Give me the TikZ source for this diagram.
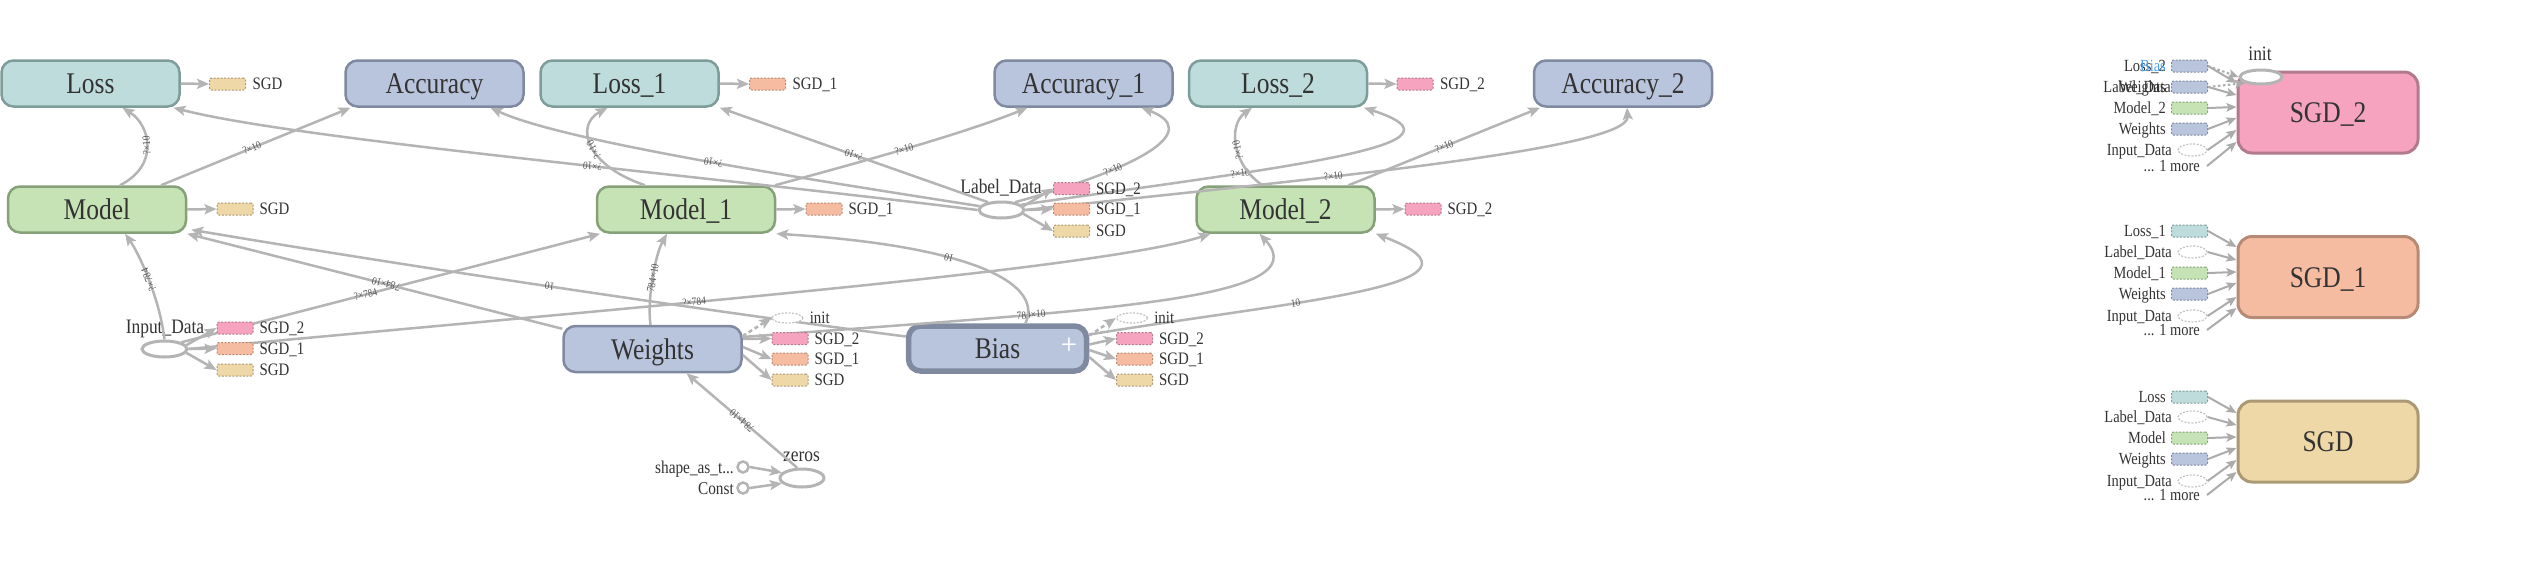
\documentclass[tikz,border=0pt]{standalone}
\usepackage{fontspec}
\setmainfont{Liberation Serif}[FakeStretch=0.85]
\usetikzlibrary{arrows.meta,shapes.geometric}
\definecolor{txt}{HTML}{333333}
\definecolor{edgec}{HTML}{B4B4B4}
\definecolor{labc}{HTML}{555555}
\definecolor{tealF}{HTML}{BDDCDB}\definecolor{tealD}{HTML}{7E9C9A}
\definecolor{blueF}{HTML}{B9C4DD}\definecolor{blueD}{HTML}{7F8AA1}
\definecolor{greenF}{HTML}{C6E3B5}\definecolor{greenD}{HTML}{86A17A}
\definecolor{pinkF}{HTML}{F5A3BF}\definecolor{pinkD}{HTML}{B27A8D}
\definecolor{salF}{HTML}{F6BCA1}\definecolor{salD}{HTML}{B78A75}
\definecolor{tanF}{HTML}{EFD8A8}\definecolor{tanD}{HTML}{AA9974}
\definecolor{biasblue}{HTML}{4DA3F0}
\tikzset{
  grp/.style={rectangle, rounded corners=12pt, line width=2.5pt, minimum width=178pt, minimum height=46pt, inner sep=0pt, font=\fontsize{30}{30}\selectfont, text=txt, text height=20pt, text depth=0pt},
  tealbox/.style={grp, fill=tealF, draw=tealD},
  bluebox/.style={grp, fill=blueF, draw=blueD},
  greenbox/.style={grp, fill=greenF, draw=greenD},
  bigbox/.style={rectangle, rounded corners=14pt, line width=3pt, minimum width=180pt, minimum height=81pt, inner sep=0pt, font=\fontsize{30}{30}\selectfont, text=txt, text height=20pt, text depth=0pt},
  mini/.style={rectangle, rounded corners=2pt, minimum width=36pt, minimum height=12pt, inner sep=0pt, line width=1pt, dash pattern=on 2pt off 1.5pt},
  mteal/.style={mini, fill=tealF, draw=tealD},
  mblue/.style={mini, fill=blueF, draw=blueD},
  mgreen/.style={mini, fill=greenF, draw=greenD},
  mpink/.style={mini, fill=pinkF, draw=pinkD},
  msal/.style={mini, fill=salF, draw=salD},
  mtan/.style={mini, fill=tanF, draw=tanD},
  mell/.style={ellipse, draw=edgec!80, fill=white, line width=1.2pt, dash pattern=on 2pt off 1.5pt, minimum width=29pt, minimum height=12pt, inner sep=0pt},
  ml/.style={anchor=west, inner sep=0pt, font=\fontsize{17.5}{17.5}\selectfont, text=txt, text height=11.6pt, text depth=0pt},
  rl/.style={anchor=east, inner sep=0pt, font=\fontsize{17}{17}\selectfont, text=txt, text height=11.3pt, text depth=0pt},
  bl/.style={inner sep=0pt, font=\fontsize{20.5}{20.5}\selectfont, text=txt, text height=13.6pt, text depth=0pt},
  opn/.style={ellipse, draw=edgec, line width=3pt, fill=white, minimum width=45pt, minimum height=16pt, inner sep=0pt},
  smallc/.style={circle, draw=edgec, line width=2.5pt, fill=white, minimum size=11pt, inner sep=0pt},
  edg/.style={draw=edgec, line width=2.5pt, -{Stealth[length=12pt,width=10pt,inset=2.5pt]}},
  dedg/.style={edg, dash pattern=on 4pt off 3pt},
  redg/.style={draw=edgec!95!black, line width=2pt, -{Stealth[length=10pt,width=8.5pt,inset=2pt]}},
  rdot/.style={redg, dash pattern=on 2.5pt off 2.5pt},
  elab/.style={font=\fontsize{11}{11}\selectfont, text=labc, sloped, allow upside down, inner sep=1pt}
}
\begin{document}
\begin{tikzpicture}[x=1pt,y=-1pt]
\useasboundingbox[fill=white] (0,0) rectangle (2538,582);
% ---------- main nodes
\node[tealbox] (loss) at (90.5,83.5) {Loss};
\node[bluebox] (acc) at (434.5,83.5) {Accuracy};
\node[tealbox] (loss1) at (629.5,83.5) {Loss\_1};
\node[bluebox] (acc1) at (1083.5,83.5) {Accuracy\_1};
\node[tealbox] (loss2) at (1278,83.5) {Loss\_2};
\node[bluebox] (acc2) at (1623,83.5) {Accuracy\_2};
\node[greenbox] (model) at (97,209.5) {Model};
\node[greenbox] (model1) at (686,209.5) {Model\_1};
\node[greenbox] (model2) at (1285.5,209.5) {Model\_2};
\node[bluebox] (weights) at (652.5,349) {Weights};
\node[bluebox, line width=5.5pt, minimum height=45pt] (bias) at (997.5,348.5) {Bias};
\node[inner sep=0pt, text=white, font=\sffamily\bfseries\fontsize{19}{19}\selectfont] (biasplus) at (1069,345) {+};
\node[opn] (ld) at (1001.5,210) {};
\node[bl] (ldL) at (1001,187) {Label\_Data};
\node[opn] (id) at (164.5,349) {};
\node[bl] (idL) at (165,327) {Input\_Data};
\node[opn, minimum width=44pt, minimum height=18pt] (zeros) at (802,478) {};
\node[bl] (zerosL) at (801.5,455) {zeros};
\node[smallc] (shp) at (743,467) {};
\node[smallc] (cst) at (743,488) {};
\node[bl, anchor=east, font=\fontsize{18}{18}\selectfont, text height=12pt] (shpL) at (734,467) {shape\_as\_t...};
\node[bl, anchor=east, font=\fontsize{18}{18}\selectfont, text height=12pt] (cstL) at (734,488) {Const};
% ---------- long edges
\draw[edg] ([xshift=23pt]model.north) .. controls (160,165) and (150,125) .. node[elab,pos=.5]{?×10} ([xshift=32pt]loss.south);
\draw[edg] ([xshift=64pt]model.north) -- node[elab,pos=.48]{?×10} ([xshift=-84pt]acc.south);
\draw[edg] (ld.west) .. controls (700,175) and (300,140) .. node[elab,pos=.42]{?×10} ([xshift=83pt]loss.south);
\draw[edg] (ld.170) .. controls (780,175) and (560,140) .. node[elab,pos=.45]{?×10} ([xshift=56pt]acc.south);
\draw[edg] (ld.150) -- node[elab,pos=.5]{?×10} (loss1.south east);
\draw[edg] (ld.30) .. controls (1150,165) and (1200,130) .. node[elab,pos=.3]{?×10} ([xshift=58pt]acc1.south);
\draw[edg] (ld.15) .. controls (1300,165) and (1480,145) .. node[elab,pos=.3]{?×10} ([xshift=86pt]loss2.south);
\draw[edg] (ld.east) .. controls (1300,180) and (1630,150) .. node[elab,pos=.37]{?×10} ([xshift=4pt]acc2.south);
\draw[edg] ([xshift=-41pt]model1.north) .. controls (585,165) and (575,125) .. node[elab,pos=.45]{?×10} ([xshift=-22pt]loss1.south);
\draw[edg] ([xshift=89pt]model1.north) .. controls (850,165) and (960,135) .. node[elab,pos=.5]{?×10} ([xshift=-56pt]acc1.south);
\draw[edg] ([xshift=-23pt]model2.north) .. controls (1232,165) and (1228,125) .. node[elab,pos=.45]{?×10} ([xshift=-26pt]loss2.south);
\draw[edg] ([xshift=63pt]model2.north) -- node[elab,pos=.5]{?×10} ([xshift=-83pt]acc2.south);
\draw[edg] (id.north) .. controls (160,300) and (140,255) .. node[elab,pos=.5]{?×784} ([xshift=28pt]model.south);
\draw[edg] (id.north east) -- node[elab,pos=.44]{?×784} ([xshift=-86pt]model1.south);
\draw[edg] (id.east) .. controls (600,310) and (1100,270) .. node[elab,pos=.4]{?×784} ([xshift=-75pt]model2.south);
\draw[edg] ([yshift=-4pt]weights.north west) -- node[elab,pos=.47]{784×10} (model.south east);
\draw[edg] ([xshift=-2pt]weights.north) .. controls (647,300) and (655,255) .. node[elab,pos=.5]{784×10} ([xshift=-19pt]model1.south);
\draw[edg] ([yshift=12pt]weights.east) .. controls (1100,310) and (1320,300) .. node[elab,pos=.31]{784×10} ([xshift=-26pt]model2.south);
\draw[edg] ([yshift=12pt]bias.west) .. controls (700,310) and (400,265) .. node[elab,pos=.5]{10} ([xshift=4pt,yshift=4pt]model.south east);
\draw[edg] ([xshift=28pt]bias.north) .. controls (1045,280) and (960,245) .. node[elab,pos=.6]{10} (model1.south east);
\draw[edg] ([yshift=14pt]bias.east) .. controls (1300,300) and (1510,285) .. node[elab,pos=.35]{10} (model2.south east);
\draw[edg] (zeros.115) -- node[elab,pos=.5]{784×10} ([xshift=34pt]weights.south);
\draw[edg] (shp.east) -- (zeros.165);
\draw[edg] (cst.east) -- (zeros.195);
% ---------- minis of main nodes
\node[mtan] (lossS) at (227.5,84) {};
\node[ml] (lossSL) at ([xshift=6.5pt]lossS.east) {SGD};
\draw[edg] (loss.east) -- (lossS.west);
\node[msal] (loss1S) at (767.5,84) {};
\node[ml] (loss1SL) at ([xshift=6.5pt]loss1S.east) {SGD\_1};
\draw[edg] (loss1.east) -- (loss1S.west);
\node[mpink] (loss2S) at (1415,84) {};
\node[ml] (loss2SL) at ([xshift=6.5pt]loss2S.east) {SGD\_2};
\draw[edg] (loss2.east) -- (loss2S.west);
\node[mtan] (modelS) at (235,209) {};
\node[ml] (modelSL) at ([xshift=6pt]modelS.east) {SGD};
\draw[edg] (model.east) -- (modelS.west);
\node[msal] (model1S) at (824,209) {};
\node[ml] (model1SL) at ([xshift=6pt]model1S.east) {SGD\_1};
\draw[edg] (model1.east) -- (model1S.west);
\node[mpink] (model2S) at (1423,209) {};
\node[ml] (model2SL) at ([xshift=6pt]model2S.east) {SGD\_2};
\draw[edg] (model2.east) -- (model2S.west);
% Label_Data minis
\node[mpink] (ld2) at (1071.5,188.5) {};
\node[msal] (ld1) at (1071.5,209) {};
\node[mtan] (ld0) at (1071.5,231) {};
\node[ml] (ld2L) at ([xshift=6pt]ld2.east) {SGD\_2};
\node[ml] (ld1L) at ([xshift=6pt]ld1.east) {SGD\_1};
\node[ml] (ld0L) at ([xshift=6pt]ld0.east) {SGD};
\draw[edg] (ld.10) -- (ld2.west);
\draw[edg] (ld.east) -- (ld1.west);
\draw[edg] (ld.-10) -- (ld0.west);
% Input_Data minis
\node[mpink] (id2) at (235,328) {};
\node[msal] (id1) at (235,348.5) {};
\node[mtan] (id0) at (235,370) {};
\node[ml] (id2L) at ([xshift=6pt]id2.east) {SGD\_2};
\node[ml] (id1L) at ([xshift=6pt]id1.east) {SGD\_1};
\node[ml] (id0L) at ([xshift=6pt]id0.east) {SGD};
\draw[edg] (id.10) -- (id2.west);
\draw[edg] (id.east) -- (id1.west);
\draw[edg] (id.-10) -- (id0.west);
% Weights minis
\node[mell, minimum width=31pt, minimum height=10pt] (winit) at (787.5,318) {};
\node[mpink] (w2) at (790,338.5) {};
\node[msal] (w1) at (790,359) {};
\node[mtan] (w0) at (790,380) {};
\node[ml] (winitL) at ([xshift=6pt]winit.east) {init};
\node[ml] (w2L) at ([xshift=6pt]w2.east) {SGD\_2};
\node[ml] (w1L) at ([xshift=6pt]w1.east) {SGD\_1};
\node[ml] (w0L) at ([xshift=6pt]w0.east) {SGD};
\draw[dedg] ([yshift=13pt]weights.east) -- (winit.west);
\draw[edg] ([yshift=10pt]weights.east) -- (w2.west);
\draw[edg] ([yshift=2pt]weights.east) -- (w1.west);
\draw[edg] ([yshift=-6pt]weights.east) -- (w0.west);
% Bias minis
\node[mell, minimum width=31pt, minimum height=10pt] (binit) at (1132,318) {};
\node[mpink] (b2) at (1134.5,338.5) {};
\node[msal] (b1) at (1134.5,359) {};
\node[mtan] (b0) at (1134.5,380) {};
\node[ml] (binitL) at ([xshift=6pt]binit.east) {init};
\node[ml] (b2L) at ([xshift=6pt]b2.east) {SGD\_2};
\node[ml] (b1L) at ([xshift=6pt]b1.east) {SGD\_1};
\node[ml] (b0L) at ([xshift=6pt]b0.east) {SGD};
\draw[dedg] ([yshift=13pt]bias.east) -- (binit.west);
\draw[edg] ([yshift=4pt]bias.east) -- (b2.west);
\draw[edg] ([yshift=-1.5pt]bias.east) -- (b1.west);
\draw[edg] ([yshift=-8.5pt]bias.east) -- (b0.west);
% ---------- right side: SGD_2
\node[bigbox, fill=pinkF, draw=pinkD] (sgd2) at (2328,112.5) {SGD\_2};
\node[opn, minimum width=42pt, minimum height=14pt] (sgd2init) at (2261,77) {};
\node[bl] (sgd2initL) at (2260,54) {init};
\node[mblue] (a1) at (2189.5,66) {};
\node[mblue] (a2) at (2189.5,87) {};
\node[mgreen] (a3) at (2189.5,108) {};
\node[mblue] (a4) at (2189.5,129) {};
\node[mell] (a5) at (2192.5,150) {};
\coordinate (a6) at (2207,166);
\node[rl] (a1L) at (2166,66) {Loss\_2};
\node[rl, text=biasblue] (a1L2) at (2166,66) {Bias};
\node[rl] (a2L) at (2171,87) {Label\_Data};
\node[rl] (a2L2) at (2166,87) {Weights};
\node[rl] (a3L) at (2166,108) {Model\_2};
\node[rl] (a4L) at (2166,129) {Weights};
\node[rl] (a5L) at (2172,150) {Input\_Data};
\node[rl] (a6L) at (2200,166) {... 1 more};
\draw[rdot] (a1.east) -- (sgd2init.west);
\draw[rdot] (a2.east) -- (sgd2init.south west);
\draw[redg] (a1.east) -- ([yshift=29.5pt]sgd2.west);
\draw[redg] (a2.east) -- ([yshift=17.5pt]sgd2.west);
\draw[redg] (a3.east) -- ([yshift=5.5pt]sgd2.west);
\draw[redg] (a4.east) -- ([yshift=-5.5pt]sgd2.west);
\draw[redg] (a5.east) -- ([yshift=-17.5pt]sgd2.west);
\draw[redg] (a6) -- ([yshift=-29.5pt]sgd2.west);
% ---------- right side: SGD_1
\node[bigbox, fill=salF, draw=salD] (sgd1) at (2328,277) {SGD\_1};
\node[mteal] (c1) at (2189.5,231) {};
\node[mell] (c2) at (2192.5,252) {};
\node[mgreen] (c3) at (2189.5,273) {};
\node[mblue] (c4) at (2189.5,294) {};
\node[mell] (c5) at (2192.5,316) {};
\coordinate (c6) at (2207,330);
\node[rl] (c1L) at (2166,231) {Loss\_1};
\node[rl] (c2L) at (2172,252) {Label\_Data};
\node[rl] (c3L) at (2166,273) {Model\_1};
\node[rl] (c4L) at (2166,294) {Weights};
\node[rl] (c5L) at (2172,316) {Input\_Data};
\node[rl] (c6L) at (2200,330) {... 1 more};
\draw[redg] (c1.east) -- ([yshift=30pt]sgd1.west);
\draw[redg] (c2.east) -- ([yshift=17pt]sgd1.west);
\draw[redg] (c3.east) -- ([yshift=5pt]sgd1.west);
\draw[redg] (c4.east) -- ([yshift=-6pt]sgd1.west);
\draw[redg] (c5.east) -- ([yshift=-20pt]sgd1.west);
\draw[redg] (c6) -- ([yshift=-31pt]sgd1.west);
% ---------- right side: SGD
\node[bigbox, fill=tanF, draw=tanD] (sgd0) at (2328,441.5) {SGD};
\node[mteal] (d1) at (2189.5,397) {};
\node[mell] (d2) at (2192.5,417) {};
\node[mgreen] (d3) at (2189.5,438) {};
\node[mblue] (d4) at (2189.5,459) {};
\node[mell] (d5) at (2192.5,481) {};
\coordinate (d6) at (2207,495);
\node[rl] (d1L) at (2166,397) {Loss};
\node[rl] (d2L) at (2172,417) {Label\_Data};
\node[rl] (d3L) at (2166,438) {Model};
\node[rl] (d4L) at (2166,459) {Weights};
\node[rl] (d5L) at (2172,481) {Input\_Data};
\node[rl] (d6L) at (2200,495) {... 1 more};
\draw[redg] (d1.east) -- ([yshift=28.5pt]sgd0.west);
\draw[redg] (d2.east) -- ([yshift=16.5pt]sgd0.west);
\draw[redg] (d3.east) -- ([yshift=4.5pt]sgd0.west);
\draw[redg] (d4.east) -- ([yshift=-6.5pt]sgd0.west);
\draw[redg] (d5.east) -- ([yshift=-18.5pt]sgd0.west);
\draw[redg] (d6) -- ([yshift=-30.5pt]sgd0.west);
\end{tikzpicture}
\end{document}
